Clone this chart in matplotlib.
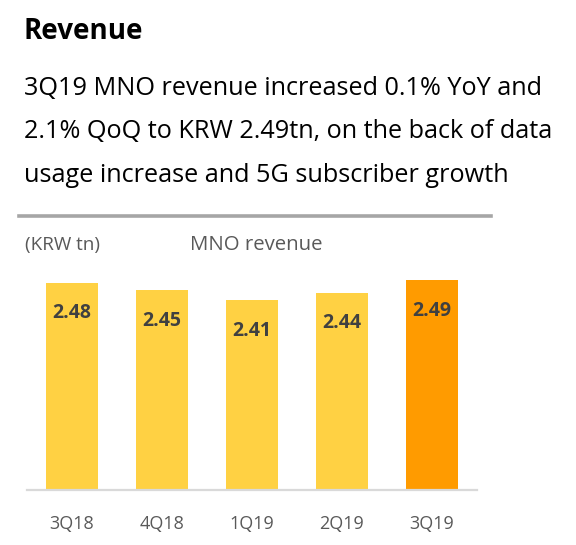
import matplotlib
matplotlib.use("Agg")
import matplotlib.pyplot as plt
from matplotlib.lines import Line2D

plt.rcParams['font.family'] = ['Open Sans', 'DejaVu Sans']

quarters = ["3Q18", "4Q18", "1Q19", "2Q19", "3Q19"]
revenue = [2.48, 2.45, 2.41, 2.44, 2.49]
bar_colors = ["#FFD143", "#FFD143", "#FFD143", "#FFD143", "#FF9B00"]

W, H = 576, 545
fig = plt.figure(figsize=(W / 100, H / 100), dpi=100)

def fx(px):
    return px / W

def fy(py):
    return 1 - py / H

# heading and comment
fig.text(fx(24), fy(39), "Revenue", fontsize=20, fontweight="bold", color="black", va="baseline")
lines = ["3Q19 MNO revenue increased 0.1% YoY and",
         "2.1% QoQ to KRW 2.49tn, on the back of data",
         "usage increase and 5G subscriber growth"]
for i, ln in enumerate(lines):
    fig.text(fx(24), fy(95 + i * 43.5), ln, fontsize=18.2, color="black", va="baseline")

# gray separator
fig.add_artist(Line2D([fx(19), fx(491)], [fy(215.5), fy(215.5)], color="#A6A6A6", lw=2.6))

# chart
ax = fig.add_axes([fx(27), fy(490), fx(477) - fx(27), fy(230) - fy(490)])
bars = ax.bar(range(len(quarters)), revenue, width=0.58, color=bar_colors, bottom=0)
ax.set_xlim(-0.5, 4.5)
ax.set_ylim(1.65, 2.69)
for i, v in enumerate(revenue):
    ax.annotate(f"{v:.2f}", (i, v), xytext=(0, -22), textcoords="offset points",
                ha="center", va="center", fontsize=14, fontweight="bold", color="#404040")

for s in ["top", "right", "left"]:
    ax.spines[s].set_visible(False)
ax.spines["bottom"].set_color("#D9D9D9")
ax.spines["bottom"].set_linewidth(1.6)
ax.set_yticks([])
ax.set_xticks(range(len(quarters)))
ax.set_xticklabels(quarters, fontsize=13, color="#595959")
ax.tick_params(axis="x", length=0, pad=18)

fig.text(fx(25), fy(245), "(KRW tn)", fontsize=13.6, color="#595959", va="center")
fig.text(fx(256), fy(245), "MNO revenue", fontsize=14.7, color="#595959", va="center", ha="center")

fig.savefig("out.png", dpi=100)
